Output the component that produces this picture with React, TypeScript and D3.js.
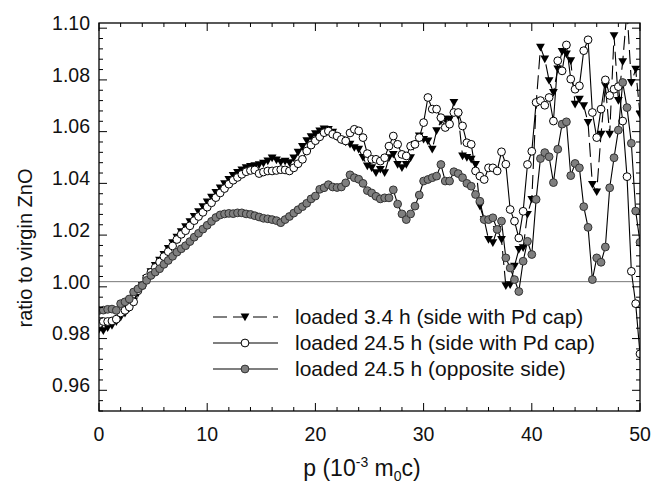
import React from 'react';
import * as d3 from 'd3';

const P = [0,0.4,0.8,1.2,1.6,2,2.4,2.8,3.2,3.6,4,4.4,4.8,5.2,5.6,6,6.4,6.8,7.2,7.6,8,8.4,8.8,9.2,9.6,10,10.4,10.8,11.2,11.6,12,12.4,12.8,13.2,13.6,14,14.4,14.8,15.2,15.6,16,16.4,16.8,17.2,17.6,18,18.4,18.8,19.2,19.6,20,20.4,20.8,21.2,21.6,22,22.4,22.8,23.2,23.6,24,24.4,24.8,25.2,25.6,26,26.4,26.8,27.2,27.6,28,28.4,28.8,29.2,29.6,30,30.4,30.8,31.2,31.6,32,32.4,32.8,33.2,33.6,34,34.4,34.8,35.2,35.6,36,36.4,36.8,37.2,37.6,38,38.4,38.8,39.2,39.6,40,40.4,40.8,41.2,41.6,42,42.4,42.8,43.2,43.6,44,44.4,44.8,45.2,45.6,46,46.4,46.8,47.2,47.6,48,48.4,48.8,49.2,49.6,50,50.4];

const LOADED_3_4H_PD = [0.9815,0.9810,0.9822,0.9830,0.9845,0.9862,0.9878,0.9898,0.9925,0.9955,
0.9985,1.0012,1.0038,1.0062,1.0083,1.0105,1.0128,1.0150,1.0172,1.0193,
1.0212,1.0232,1.0252,1.0270,1.0290,1.0308,1.0326,1.0345,1.0362,1.0378,
1.0395,1.0410,1.0422,1.0432,1.0440,1.0445,1.0448,1.0452,1.0458,1.0466,
1.0478,1.0470,1.0462,1.0465,1.0460,1.0478,1.0500,1.0522,1.0545,1.0560,
1.0572,1.0582,1.0590,1.0588,1.0578,1.0560,1.0548,1.0540,1.0531,1.0518,
1.0512,1.0480,1.0447,1.0440,1.0421,1.0434,1.0421,1.0479,1.0492,1.0453,
1.0440,1.0453,1.0479,1.0530,1.0563,1.0550,1.0544,1.0512,1.0583,1.0621,
1.0628,1.0628,1.0693,1.0641,1.0486,1.0480,1.0473,1.0453,1.0292,1.0240,
1.0163,1.0150,1.0202,1.0163,0.9984,0.9988,1.0060,1.0124,1.0131,1.0260,
1.0318,1.0686,1.0906,1.0861,1.0777,1.0731,1.0822,1.0890,1.0880,1.0854,
1.0686,1.0705,1.0680,1.0615,1.0376,1.0347,1.0570,1.0757,1.0570,1.0951,
1.0700,1.0850,1.1050,1.0770,1.0821,1.0646,1.0560];

const LOADED_24_5H_PD = [0.9837,0.9846,0.9846,0.9848,0.9855,0.9879,0.9889,0.9902,0.9922,0.9965,
0.9985,1.0015,1.0036,1.0055,1.0076,1.0097,1.0116,1.0138,1.0163,1.0183,
1.0197,1.0216,1.0236,1.0252,1.0268,1.0288,1.0305,1.0325,1.0343,1.0360,
1.0377,1.0392,1.0403,1.0415,1.0425,1.0430,1.0432,1.0418,1.0424,1.0428,
1.0428,1.0430,1.0433,1.0432,1.0428,1.0440,1.0456,1.0473,1.0505,1.0528,
1.0545,1.0560,1.0576,1.0582,1.0570,1.0563,1.0550,1.0544,1.0575,1.0589,
1.0583,1.0557,1.0495,1.0473,1.0473,1.0466,1.0479,1.0524,1.0563,1.0531,
1.0492,1.0486,1.0524,1.0531,1.0557,1.0615,1.0712,1.0667,1.0667,1.0634,
1.0596,1.0609,1.0654,1.0654,1.0602,1.0537,1.0531,1.0428,1.0408,1.0395,
1.0440,1.0440,1.0428,1.0502,1.0454,1.0279,1.0234,1.0169,1.0272,1.0453,
1.0504,1.0693,1.0700,1.0682,1.0712,1.0621,1.0854,1.0815,1.0915,1.0783,
1.0744,1.0757,1.0893,1.0935,1.0654,1.0557,1.0667,1.0780,1.0720,1.0744,
1.0754,1.0621,1.0406,1.0040,0.9915,0.9721,0.9420];

const LOADED_24_5H_OPP = [0.9889,0.9890,0.9893,0.9894,0.9889,0.9915,0.9922,0.9933,0.9960,0.9972,
0.9985,1.0005,1.0024,1.0037,1.0050,1.0067,1.0082,1.0098,1.0114,1.0127,
1.0139,1.0155,1.0172,1.0187,1.0203,1.0218,1.0233,1.0248,1.0258,1.0262,
1.0264,1.0263,1.0266,1.0266,1.0262,1.0260,1.0255,1.0250,1.0245,1.0243,
1.0240,1.0236,1.0228,1.0240,1.0252,1.0265,1.0278,1.0290,1.0303,1.0320,
1.0331,1.0357,1.0363,1.0375,1.0366,1.0364,1.0366,1.0382,1.0413,1.0402,
1.0396,1.0380,1.0352,1.0343,1.0330,1.0320,1.0324,1.0324,1.0355,1.0300,
1.0262,1.0240,1.0262,1.0292,1.0335,1.0389,1.0395,1.0402,1.0408,1.0453,
1.0389,1.0389,1.0425,1.0418,1.0402,1.0380,1.0369,1.0337,1.0311,1.0240,
1.0240,1.0247,1.0202,1.0234,1.0092,1.0053,1.0008,0.9962,1.0079,1.0156,
1.0105,1.0318,1.0476,1.0499,1.0483,1.0383,1.0512,1.0609,1.0618,1.0410,
1.0457,1.0440,1.0290,1.0210,1.0008,1.0092,1.0075,1.0134,1.0363,1.0479,
1.0586,1.0770,1.0673,1.0535,1.0273,1.0152,1.0060];

const X_TICKS = [0, 10, 20, 30, 40, 50];
const Y_TICKS = [0.96, 0.98, 1.0, 1.02, 1.04, 1.06, 1.08, 1.1];
const LEGEND_LABELS = [
  'loaded 3.4 h (side with Pd cap)',
  'loaded 24.5 h (side with Pd cap)',
  'loaded 24.5 h (opposite side)',
];

const W = 653, H = 485;
const M = { left: 99, right: 13, top: 23, bottom: 74 };
const FONT = 'Liberation Sans, Arial, sans-serif';

export default function App() {
  const x = d3.scaleLinear().domain([0, 50]).range([M.left, W - M.right]);
  const y = d3.scaleLinear().domain([0.95, 1.1]).range([H - M.bottom, M.top]);
  const x0 = x(0), x1 = x(50), y0 = y(0.95), y1 = y(1.1);

  const line = d3.line<number>().x((_, i) => x(P[i])).y((d) => y(d));
  const xMinor = d3.range(0, 50.001, 2);
  const yMinor = d3.range(0.95, 1.1001, 0.004);
  const triPath = (cx: number, cy: number, s: number) =>
    `M${cx - s},${cy - s * 0.8}L${cx + s},${cy - s * 0.8}L${cx},${cy + s * 0.95}Z`;

  const legY = [317, 343, 369];
  const legX0 = 213, legX1 = 278, legM = 245, legT = 295;

  return (
    <svg width={W} height={H} style={{ position: 'absolute', left: 0, top: 0, background: '#fff' }} fontFamily={FONT}>
      <defs>
        <clipPath id="plotclip">
          <rect x={x0} y={y1} width={x1 - x0} height={y0 - y1} />
        </clipPath>
      </defs>
      <rect x={0} y={0} width={W} height={H} fill="#fff" />
      <line x1={x0} x2={x1} y1={y(1.0)} y2={y(1.0)} stroke="#777" strokeWidth={1} />
      <g clipPath="url(#plotclip)">
        <path d={line(LOADED_3_4H_PD) || ''} fill="none" stroke="#000" strokeWidth={1.1} strokeDasharray="14,6" />
        {LOADED_3_4H_PD.map((v, i) => (
          <path key={'t' + i} d={triPath(x(P[i]), y(v), 4.4)} fill="#000" />
        ))}
        <path d={line(LOADED_24_5H_PD) || ''} fill="none" stroke="#000" strokeWidth={1.1} />
        {LOADED_24_5H_PD.map((v, i) => (
          <circle key={'w' + i} cx={x(P[i])} cy={y(v)} r={3.9} fill="#fff" stroke="#000" strokeWidth={1} />
        ))}
        <path d={line(LOADED_24_5H_OPP) || ''} fill="none" stroke="#000" strokeWidth={1.1} />
        {LOADED_24_5H_OPP.map((v, i) => (
          <circle key={'g' + i} cx={x(P[i])} cy={y(v)} r={3.9} fill="#7f7f7f" stroke="#333" strokeWidth={1} />
        ))}
      </g>
      <rect x={x0} y={y1} width={x1 - x0} height={y0 - y1} fill="none" stroke="#000" strokeWidth={1.3} />
      {xMinor.map((t) => {
        const major = Math.abs(t % 10) < 1e-6;
        const L = major ? 8 : 4;
        return (
          <g key={'xt' + t}>
            <line x1={x(t)} x2={x(t)} y1={y0} y2={y0 - L} stroke="#000" strokeWidth={1} />
            <line x1={x(t)} x2={x(t)} y1={y1} y2={y1 + L} stroke="#000" strokeWidth={1} />
          </g>
        );
      })}
      {yMinor.map((t, i) => {
        const major = i % 5 === 2;
        const L = major ? 8 : 4;
        return (
          <g key={'yt' + i}>
            <line x1={x0} x2={x0 + L} y1={y(t)} y2={y(t)} stroke="#000" strokeWidth={1} />
            <line x1={x1} x2={x1 - L} y1={y(t)} y2={y(t)} stroke="#000" strokeWidth={1} />
          </g>
        );
      })}
      {X_TICKS.map((t) => (
        <text key={'xl' + t} x={x(t)} y={y0 + 30} fontSize={19.5} textAnchor="middle" fill="#111">{t}</text>
      ))}
      {Y_TICKS.map((t) => (
        <text key={'yl' + t} x={x0 - 9} y={y(t) + 7} fontSize={19.5} textAnchor="end" fill="#111">{t.toFixed(2)}</text>
      ))}
      <text x={362} y={H - 9} fontSize={23} textAnchor="middle" fill="#111">
        p (10<tspan dy={-9} fontSize={14}>-3</tspan><tspan dy={9}> m</tspan><tspan dy={5} fontSize={14}>0</tspan><tspan dy={-5}>c)</tspan>
      </text>
      <text transform={`translate(32,248) rotate(-90)`} fontSize={20} textAnchor="middle" fill="#111">ratio to virgin ZnO</text>
      {LEGEND_LABELS.map((lab, i) => (
        <g key={'lg' + i}>
          <line x1={legX0} x2={legX1} y1={legY[i]} y2={legY[i]} stroke="#000" strokeWidth={1.1} strokeDasharray={i === 0 ? '14,6' : undefined} />
          {i === 0 && <path d={triPath(legM, legY[i], 4.4)} fill="#000" />}
          {i === 1 && <circle cx={legM} cy={legY[i]} r={3.9} fill="#fff" stroke="#000" />}
          {i === 2 && <circle cx={legM} cy={legY[i]} r={3.9} fill="#7f7f7f" stroke="#333" />}
          <text x={legT} y={legY[i] + 7} fontSize={21} fill="#111">{lab}</text>
        </g>
      ))}
    </svg>
  );
}
